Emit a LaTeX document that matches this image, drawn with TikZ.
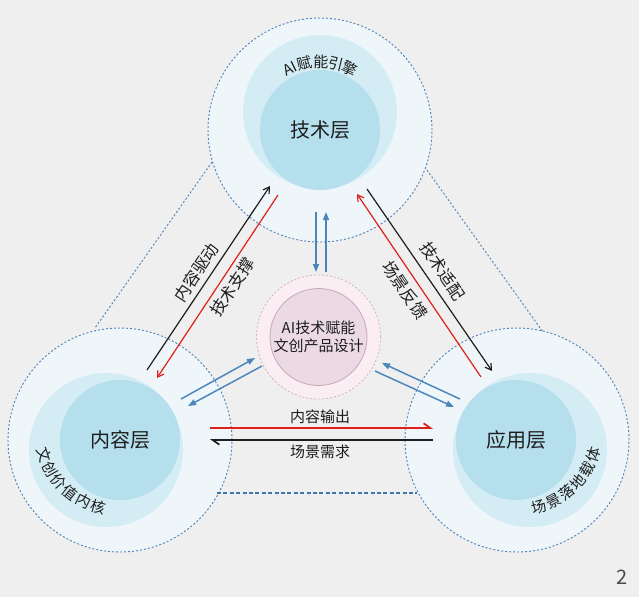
\documentclass[tikz,border=0pt]{standalone}
\usepackage{fontspec}
\setmainfont{Noto Sans CJK SC}
\usetikzlibrary{arrows.meta}
\definecolor{bg}{HTML}{EFEFEF}
\definecolor{outerfill}{HTML}{EEF6FA}
\definecolor{midfill}{HTML}{D4ECF4}
\definecolor{innerfill}{HTML}{B6DFEE}
\definecolor{dashblue}{HTML}{5283BA}
\definecolor{dashblue2}{HTML}{3F76B0}
\definecolor{arrowblue}{HTML}{4A85BC}
\definecolor{pinkout}{HTML}{FBEEF3}
\definecolor{pinkborder}{HTML}{D2B3C3}
\definecolor{pinkin}{HTML}{EBD9E4}
\definecolor{pinkinborder}{HTML}{C9A5BC}
\definecolor{redline}{HTML}{E0201A}
\definecolor{txt}{HTML}{1E1E1E}
\begin{document}
\begin{tikzpicture}[x=0.75pt,y=-0.75pt,
  outerc/.style={circle, fill=outerfill, draw=dashblue, dash pattern=on 1.5pt off 1.5pt, line width=0.7pt, minimum size=168pt, inner sep=0pt},
  midc/.style={circle, fill=midfill, minimum size=115.5pt, inner sep=0pt},
  innerc/.style={circle, fill=innerfill, minimum size=90pt, inner sep=0pt, font=\fontsize{15pt}{18pt}\selectfont, text=txt},
  lbl/.style={font=\fontsize{11.25pt}{13.5pt}\selectfont, text=txt, inner sep=0pt},
  dlbl/.style={font=\fontsize{12.3pt}{14pt}\selectfont, text=txt, inner sep=0pt},
  tri/.style={draw=dashblue, dash pattern=on 1.5pt off 1.5pt, line width=0.7pt},
  blkarr/.style={draw=txt, line width=0.9pt, -{Straight Barb[length=4.5pt,width=5.5pt]}},
  redarr/.style={draw=redline, line width=0.9pt, -{Straight Barb[length=4.5pt,width=5.5pt]}},
  bluarr/.style={draw=arrowblue, line width=1.1pt, -{Triangle[length=6pt,width=4.5pt]}},
  harp/.style={-{Straight Barb[harpoon,length=5pt,width=7pt]}}
]
\fill[bg] (0,0) rectangle (639,597);
\useasboundingbox (0,0) rectangle (639,597);

% outer circles
\node[outerc] (tOut) at (320,130) {};
\node[outerc] (lOut) at (120,440) {};
\node[outerc] (rOut) at (517,440) {};

% triangle dashed lines
\coordinate (tl1) at (212,162); \coordinate (tl2) at (95,328);
\coordinate (tr1) at (427,170); \coordinate (tr2) at (543,332);
\coordinate (tb1) at (217,493); \coordinate (tb2) at (417,493);
\draw[tri] (tl1) -- (tl2);
\draw[tri] (tr1) -- (tr2);
\draw[draw=dashblue2, dash pattern=on 3pt off 1.8pt, line width=1.1pt] (tb1) -- (tb2);

% middle circles
\node[midc] (tMid) at (320,112) {};
\node[midc] (lMid) at (106,450) {};
\node[midc] (rMid) at (530,450) {};

% inner circles
\node[innerc] (tech) at (320,130) {技术层};
\node[innerc] (cont) at (120,440) {内容层};
\node[innerc] (app) at (516,440) {应用层};

% center
\node[circle, fill=pinkout, draw=pinkborder, dash pattern=on 1.5pt off 1.5pt, line width=0.6pt, minimum size=93pt, inner sep=0pt] (core) at (318.5,337) {};
\node[circle, fill=pinkin, draw=pinkinborder, line width=0.6pt, minimum size=72.75pt, inner sep=0pt, align=center, lbl] (coreIn) at (318.5,337) {AI技术赋能\\文创产品设计};

% black / red diagonal arrows
\coordinate (a1s) at (147,370); \coordinate (a1e) at (270,186);
\coordinate (a2s) at (278,195); \coordinate (a2e) at (157,378);
\coordinate (a3s) at (367,189); \coordinate (a3e) at (492,371);
\coordinate (a4s) at (481,377); \coordinate (a4e) at (357,194);
\draw[blkarr] (a1s) -- (a1e);
\draw[redarr] (a2s) -- (a2e);
\draw[blkarr] (a3s) -- (a3e);
\draw[redarr] (a4s) -- (a4e);

% blue arrows
\coordinate (v1s) at (316,212); \coordinate (v1e) at (316,272);
\coordinate (v2s) at (326,272); \coordinate (v2e) at (326,212);
\coordinate (l1s) at (181,399); \coordinate (l1e) at (255,358);
\coordinate (l2s) at (262,366); \coordinate (l2e) at (188,406);
\coordinate (r1s) at (460,399); \coordinate (r1e) at (382,363);
\coordinate (r2s) at (375,371); \coordinate (r2e) at (454,407);
\draw[bluarr] (v1s) -- (v1e);
\draw[bluarr] (v2s) -- (v2e);
\draw[bluarr] (l1s) -- (l1e);
\draw[bluarr] (l2s) -- (l2e);
\draw[bluarr] (r1s) -- (r1e);
\draw[bluarr] (r2s) -- (r2e);

% horizontal arrows
\coordinate (h1s) at (210,428); \coordinate (h1e) at (433,428);
\coordinate (h2s) at (433,440); \coordinate (h2e) at (210,440);
\draw[draw=redline, line width=1.3pt, harp] (h1s) -- (h1e);
\draw[draw=txt, line width=1.3pt, harp] (h2s) -- (h2e);

% arrow labels
\node[dlbl, rotate=56.5] (lbA) at (196,272.5) {内容驱动};
\node[dlbl, rotate=56.5] (lbB) at (232.5,287) {技术支撑};
\node[dlbl, rotate=-56] (lbC) at (442.5,271) {技术适配};
\node[dlbl, rotate=-56] (lbD) at (405,290) {场景反馈};
\node[lbl] (lbE) at (320,417) {内容输出};
\node[lbl] (lbF) at (320,452) {场景需求};

% curved texts
\foreach \ch/\ang [count=\i] in {AI/116.2,赋/102.7,能/89.2,引/76.4,擎/63.8}
  \node[lbl, rotate=\ang-90] (ttop\i) at ({320+68*cos(\ang)},{130-68*sin(\ang)}) {\ch};
\foreach \ch [count=\i] in {文,创,价,值,内,核} {
  \pgfmathsetmacro\ang{198+(\i-1)*11.2}
  \node[lbl, rotate=\ang+90] (tleft\i) at ({120+80*cos(\ang)},{430-80*sin(\ang)}) {\ch};
}
\foreach \ch [count=\i] in {场,景,落,地,载,体} {
  \pgfmathsetmacro\ang{-74+(\i-1)*11.2}
  \node[lbl, rotate=\ang+90] (tright\i) at ({517+80*cos(\ang)},{430-80*sin(\ang)}) {\ch};
}

\node[font=\fontsize{15pt}{18pt}\selectfont, text=black!70] (pg) at (622,577) {2};
\end{tikzpicture}
\end{document}
